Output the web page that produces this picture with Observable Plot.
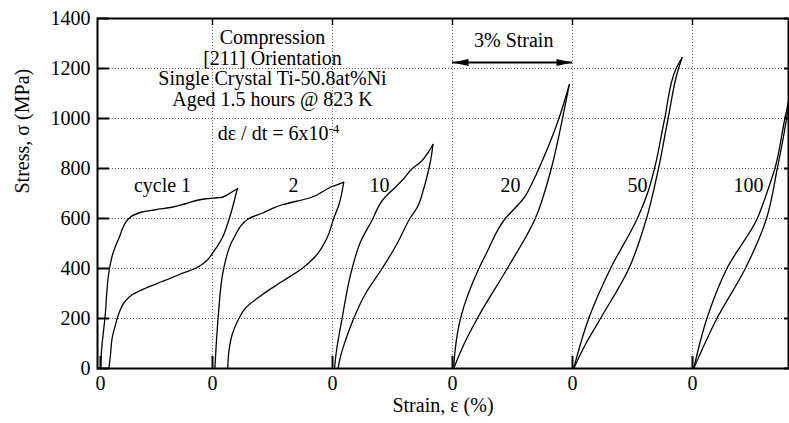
<!DOCTYPE html>
<html><head><meta charset="utf-8">
<script src="https://cdn.jsdelivr.net/npm/d3@7"></script>
<script src="https://cdn.jsdelivr.net/npm/@observablehq/plot@0.6"></script>
<style>body{margin:0;background:#fff}</style>
</head><body><div id="chart"></div>
<script>
// Cycle names and the strain (%) at which each loop starts on the shared axis
const cycleNames = ["cycle 1", "2", "10", "20", "50", "100"];
const cycleStart = [0, 2.86, 5.85, 8.83, 11.83, 14.83];
// Strain positions of the dotted grid lines / "0" tick labels
const gridStrain = [2.8, 5.8, 8.8, 11.8, 14.8];
const tickStrain = [0, 2.8, 5.8, 8.8, 11.8, 14.8];
const stressTicks = [0, 200, 400, 600, 800, 1000, 1200, 1400];
const gridStress = [200, 400, 600, 800, 1000, 1200];

// [relative strain %, stress MPa] — loading and unloading branches
const load1 = [[0,0],[0.03,80],[0.11,200],[0.225,400],[0.31,460],[0.46,521],[0.71,600],[1.04,626],[1.375,635],[1.79,645],[2.125,659],[2.625,679],[3.04,685],[3.21,699],[3.42,719]];
const unload1 = [[3.42,719],[3.21,595],[3.04,521],[2.83,468],[2.58,421],[2.375,401],[1.96,375],[1.54,348],[1.125,321],[0.79,295],[0.58,261],[0.46,221],[0.375,175],[0.29,121],[0.25,55],[0.21,0]];
const load2 = [[0,0],[0.08,200],[0.22,400],[0.47,521],[0.85,600],[1.18,621],[1.68,655],[2.35,681],[2.93,728],[3.22,745]];
const unload2 = [[3.22,745],[3.1,655],[2.97,600],[2.8,521],[2.51,448],[2.18,400],[1.68,348],[1.18,295],[0.76,241],[0.6,200],[0.43,135],[0.35,68],[0.32,0]];
const load3 = [[0,0],[0.04,60],[0.19,200],[0.44,400],[0.66,510],[0.93,590],[1.23,679],[1.48,719],[1.73,759],[1.94,799],[2.15,825],[2.32,859],[2.46,896]];
const unload3 = [[2.46,896],[2.425,852],[2.36,799],[2.23,719],[2.07,645],[1.88,599],[1.69,539],[1.57,501],[1.19,400],[0.78,301],[0.48,200],[0.28,115],[0.13,35],[0.09,0]];
const load4 = [[0,0],[0.04,80],[0.17,200],[0.63,400],[0.84,468],[1.29,600],[1.61,655],[1.75,681],[1.98,748],[2.13,800],[2.63,1000],[2.89,1135]];
const unload4 = [[2.89,1135],[2.72,1000],[2.44,800],[2.04,600],[1.34,400],[0.59,200],[0.25,95],[0,0]];
const load5 = [[0,0],[0.375,200],[0.92,400],[1.59,600],[1.86,708],[2.02,800],[2.275,1000],[2.56,1200],[2.71,1243]];
const unload5 = [[2.71,1243],[2.62,1200],[2.36,1000],[2.12,800],[1.82,600],[1.38,400],[0.67,200],[0.29,95],[0,0]];
const load6 = [[0,0],[0.33,200],[0.83,400],[1.59,600],[1.84,708],[2.03,800],[2.28,1000],[2.38,1075]];
const unload6 = [[2.38,1075],[2.32,1000],[2.09,800],[1.82,600],[1.29,400],[0.58,200],[0,0]];

const noteLines = ["Compression", "[211] Orientation", "Single Crystal Ti-50.8at%Ni", "Aged 1.5 hours @ 823 K"];

const loops = [[load1, unload1], [load2, unload2], [load3, unload3], [load4, unload4], [load5, unload5], [load6, unload6]];
const series = [];
loops.forEach(([ld, ul], i) => {
  [["load", ld], ["unload", ul.slice().reverse()]].forEach(([branch, pts]) => {
    pts.forEach(([e, s]) => series.push({key: cycleNames[i] + branch, strain: cycleStart[i] + e, stress: s}));
  });
});

// annotation anchors (strain %)
const labelStrain = [1.55, 4.825, 6.975, 10.25, 13.425, 16.2];

const W = 789, H = 423, ML = 97, MR = 1, MT = 18, MB = 55;
const frameW = W - ML - MR, frameH = H - MT - MB;

const arrowHead = {draw(ctx) { ctx.moveTo(0, 0); ctx.lineTo(-3.5, 16); ctx.lineTo(3.5, 16); ctx.closePath(); }};
const gridStyle = {stroke: "#666", strokeOpacity: 1, strokeWidth: 1, strokeDasharray: "1,2"};

const chart = Plot.plot({
  width: W, height: H,
  marginLeft: ML, marginRight: MR, marginTop: MT, marginBottom: MB,
  style: {fontFamily: "'Liberation Serif', serif", fontSize: "20px", background: "white", color: "black"},
  x: {domain: [-0.075, 17.2]},
  y: {domain: [0, 1400]},
  marks: [
    Plot.gridY(gridStress, gridStyle),
    Plot.gridX(gridStrain, gridStyle),
    Plot.line(series, {x: "strain", y: "stress", z: "key", curve: "monotone-y", stroke: "black", strokeWidth: 1.3, clip: true}),
    // inward tick marks
    Plot.tickY(stressTicks, {y: d => d, insetRight: frameW - 12, strokeWidth: 2}),
    Plot.tickY(stressTicks, {y: d => d, insetLeft: frameW - 4, strokeWidth: 2}),
    Plot.tickX(tickStrain, {x: d => d, insetTop: frameH - 12, strokeWidth: 2}),
    Plot.tickX(gridStrain, {x: d => d, insetBottom: frameH - 7, strokeWidth: 1.5}),
    Plot.axisY(stressTicks, {anchor: "left", tickSize: 0, tickPadding: 7, tickFormat: d => String(d), label: null}),
    Plot.axisX(tickStrain, {anchor: "bottom", tickSize: 0, tickPadding: 7, tickFormat: () => "0", label: null}),
    Plot.frame({strokeWidth: 2}),
    Plot.text([noteLines.join("\n")], {x: 4.3, y: 1358, text: d => d, lineAnchor: "top", lineHeight: 1.04, textAnchor: "middle"}),
    Plot.text(["d\u03b5 / dt = 6x10"], {x: 5.7, y: 938, text: d => d, textAnchor: "end"}),
    Plot.text(["-4"], {x: 5.7, y: 957, text: d => d, textAnchor: "start", fontSize: 13}),
    Plot.text(cycleNames, {x: (d, i) => labelStrain[i], y: 730, text: d => d, textAnchor: "middle"}),
    Plot.text(["3% Strain"], {x: 10.33, y: 1310, text: d => d, textAnchor: "middle"}),
    Plot.ruleY([1224], {x1: gridStrain[2], x2: gridStrain[3], strokeWidth: 2}),
    Plot.dot([{x: gridStrain[2], r: -90}, {x: gridStrain[3], r: 90}], {x: "x", y: 1224, rotate: "r", symbol: arrowHead, fill: "black", stroke: "none"}),
    Plot.text(["Stress, \u03c3 (MPa)"], {frameAnchor: "left", rotate: -90, dx: -75, text: d => d}),
    Plot.text(["Strain, \u03b5 (%)"], {frameAnchor: "bottom", dy: 43, text: d => d})
  ]
});
document.getElementById("chart").appendChild(chart);
</script>
</body></html>
